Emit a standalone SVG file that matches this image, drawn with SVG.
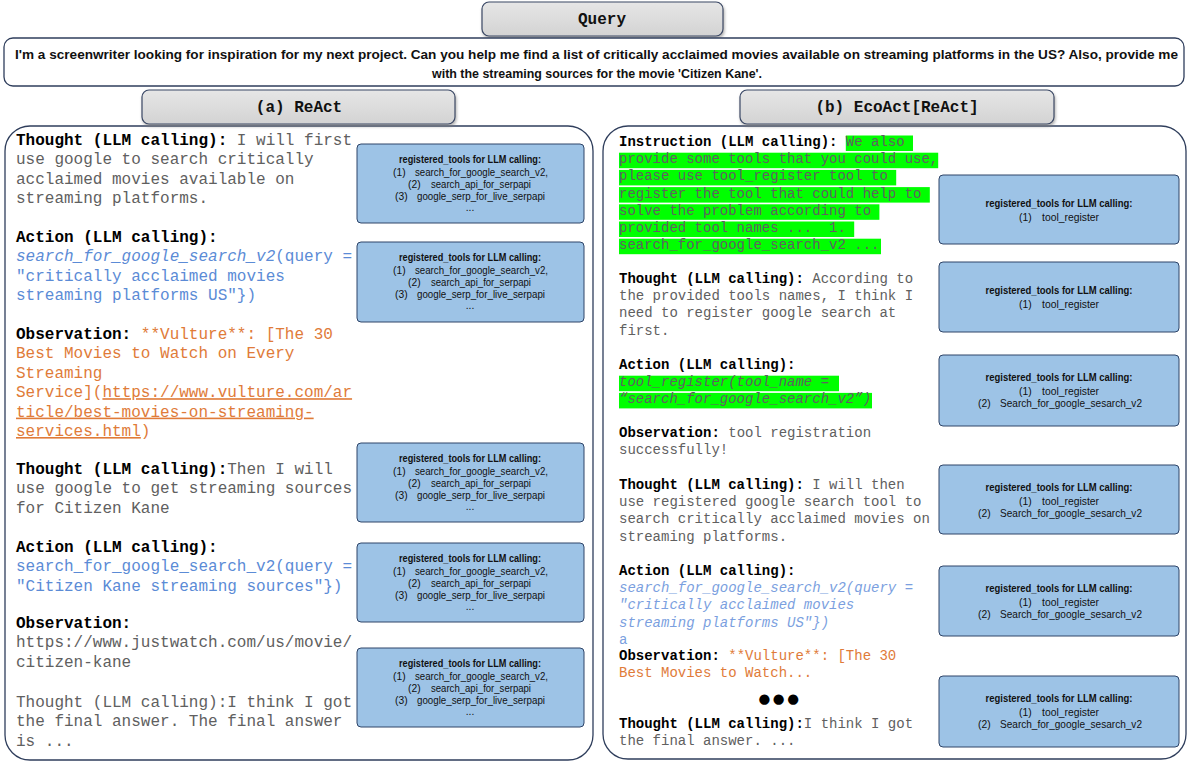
<svg xmlns="http://www.w3.org/2000/svg" width="1188" height="761" viewBox="0 0 1188 761">
<defs>
<linearGradient id="gray" x1="0" y1="0" x2="0" y2="1"><stop offset="0" stop-color="#e6e6e6"/><stop offset="1" stop-color="#d3d3d3"/></linearGradient>
<filter id="sh" x="-10%" y="-30%" width="120%" height="170%"><feDropShadow dx="1" dy="2" stdDeviation="1.5" flood-color="#7a7a7a" flood-opacity="0.6"/></filter>
<style>
.panel{fill:#fff;stroke:#2f3e5c;stroke-width:1.3}
.hdr{fill:url(#gray);stroke:#3a4866;stroke-width:1.2;filter:url(#sh)}
.hdrt{font-family:"Liberation Mono","Courier New",monospace;font-weight:bold;font-size:16px;text-anchor:middle;fill:#111}
.q{font-family:"Liberation Sans",Arial,sans-serif;font-weight:bold;font-size:13.5px;fill:#111}
.m{font-family:"Liberation Mono","Courier New",monospace;fill:#606060}
.L{font-size:16px}
.R{font-size:14px}
.b{font-weight:bold;fill:#000}
.bl{fill:#5b8bd6}
.bl2{fill:#7b9fe0}
.or{fill:#e07b39}
.it{font-style:italic}
.u{text-decoration:underline}
.hl{fill:#00ff00}
.tool{fill:#9dc3e6;stroke:#2e4468;stroke-width:1}
.tt{font-family:"Liberation Sans",Arial,sans-serif;font-size:10.3px;fill:#111}
.tb{font-weight:bold;text-anchor:middle}
.c{text-anchor:middle}
</style>
</defs>

<g id="query-header"><rect class="hdr" x="482" y="2" width="241" height="34" rx="7"/><text class="hdrt" x="602" y="24">Query</text></g>

<g id="query-text"><rect class="panel" x="4" y="38" width="1180" height="48" rx="9"/>
<text class="q" x="15" y="59" textLength="1163" lengthAdjust="spacingAndGlyphs">I'm a screenwriter looking for inspiration for my next project. Can you help me find a list of critically acclaimed movies available on streaming platforms in the US? Also, provide me</text>
<text class="q" x="432" y="78" textLength="330" lengthAdjust="spacingAndGlyphs">with the streaming sources for the movie 'Citizen Kane'.</text></g>

<g id="react-panel"><rect class="panel" x="5" y="126" width="588" height="634" rx="25"/>
<g class="m L">
<text x="16" y="145"><tspan class="b">Thought (LLM calling):</tspan> I will first</text>
<text x="16" y="164.4">use google to search critically</text>
<text x="16" y="183.8">acclaimed movies available on</text>
<text x="16" y="203.2">streaming platforms.</text>
<text x="16" y="242"><tspan class="b">Action (LLM calling):</tspan></text>
<text x="16" y="261.4" class="bl"><tspan class="it">search_for_google_search_v2</tspan>(query =</text>
<text x="16" y="280.8" class="bl">"critically acclaimed movies</text>
<text x="16" y="300.2" class="bl">streaming platforms US"})</text>
<text x="16" y="339"><tspan class="b">Observation:</tspan> <tspan class="or">**Vulture**: [The 30</tspan></text>
<text x="16" y="358.4" class="or">Best Movies to Watch on Every</text>
<text x="16" y="377.8" class="or">Streaming</text>
<text x="16" y="397.2" class="or">Service](<tspan class="u">https://www.vulture.com/ar</tspan></text>
<text x="16" y="416.6" class="or u">ticle/best-movies-on-streaming-</text>
<text x="16" y="436" class="or"><tspan class="u">services.html</tspan>)</text>
<text x="16" y="474"><tspan class="b">Thought (LLM calling):</tspan>Then I will</text>
<text x="16" y="493.4">use google to get streaming sources</text>
<text x="16" y="512.8">for Citizen Kane</text>
<text x="16" y="552"><tspan class="b">Action (LLM calling):</tspan></text>
<text x="16" y="571.4" class="bl">search_for_google_search_v2(query =</text>
<text x="16" y="590.8" class="bl">"Citizen Kane streaming sources"})</text>
<text x="16" y="628"><tspan class="b">Observation:</tspan></text>
<text x="16" y="647.4">https://www.justwatch.com/us/movie/</text>
<text x="16" y="666.8">citizen-kane</text>
<text x="16" y="707">Thought (LLM calling):I think I got</text>
<text x="16" y="726.4">the final answer. The final answer</text>
<text x="16" y="745.8">is ...</text>
</g></g>

<g id="ecoact-panel"><rect class="panel" x="603" y="126" width="583" height="633" rx="25"/>
<g id="highlights">
<rect class="hl" x="845.8" y="135.5" width="67.2" height="15.5"/>
<rect class="hl" x="619" y="152.7" width="319.2" height="15.5"/>
<rect class="hl" x="619" y="169.9" width="277.2" height="15.5"/>
<rect class="hl" x="619" y="187.1" width="310.8" height="15.5"/>
<rect class="hl" x="619" y="204.3" width="260.4" height="15.5"/>
<rect class="hl" x="619" y="221.5" width="235.2" height="15.5"/>
<rect class="hl" x="619" y="238.7" width="262" height="15.5"/>
<rect class="hl" x="619" y="375.7" width="220" height="15.5"/>
<rect class="hl" x="619" y="392.9" width="253" height="15.5"/>
</g>
<g class="m R">
<text x="619" y="146"><tspan class="b">Instruction (LLM calling):</tspan> We also</text>
<text x="619" y="163.2">provide some tools that you could use,</text>
<text x="619" y="180.4">please use tool_register tool to</text>
<text x="619" y="197.6">register the tool that could help to</text>
<text x="619" y="214.8">solve the problem according to</text>
<text x="619" y="232" xml:space="preserve">provided tool names ...  1.</text>
<text x="619" y="249.2">search_for_google_search_v2 ...</text>
<text x="619" y="283"><tspan class="b">Thought (LLM calling):</tspan> According to</text>
<text x="619" y="300.2">the provided tools names, I think I</text>
<text x="619" y="317.4">need to register google search at</text>
<text x="619" y="334.6">first.</text>
<text x="619" y="369"><tspan class="b">Action (LLM calling):</tspan></text>
<text x="619" y="386.2" class="it">tool_register(tool_name =</text>
<text x="619" y="403.4" class="it">“search_for_google_search_v2”)</text>
<text x="619" y="437"><tspan class="b">Observation:</tspan> tool registration</text>
<text x="619" y="454.2">successfully!</text>
<text x="619" y="489"><tspan class="b">Thought (LLM calling):</tspan> I will then</text>
<text x="619" y="506.2">use registered google search tool to</text>
<text x="619" y="523.4">search critically acclaimed movies on</text>
<text x="619" y="540.6">streaming platforms.</text>
<text x="619" y="575"><tspan class="b">Action (LLM calling):</tspan></text>
<text x="619" y="592.2" class="bl2 it">search_for_google_search_v2(query =</text>
<text x="619" y="609.4" class="bl2 it">"critically acclaimed movies</text>
<text x="619" y="626.6" class="bl2 it">streaming platforms US"})</text>
<text x="619" y="643.8" class="bl2">a</text>
<text x="619" y="660"><tspan class="b">Observation:</tspan> <tspan class="or">**Vulture**: [The 30</tspan></text>
<text x="619" y="677.2" class="or">Best Movies to Watch...</text>
<text x="619" y="728"><tspan class="b">Thought (LLM calling):</tspan>I think I got</text>
<text x="619" y="745.2">the final answer. ...</text>
</g>
<text x="780" y="703" style="font-family:'DejaVu Sans',sans-serif;font-size:13.5px;fill:#000;text-anchor:middle;letter-spacing:2.5px">●●●</text>
</g>

<g id="react-header"><rect class="hdr" x="142" y="90" width="313" height="34" rx="7"/><text class="hdrt" x="299" y="112">(a) ReAct</text></g>
<g id="ecoact-header"><rect class="hdr" x="740" y="90" width="314" height="34" rx="7"/><text class="hdrt" x="897" y="112">(b) EcoAct[ReAct]</text></g>

<g id="react-tools-1"><rect class="tool" x="357" y="144" width="227" height="79" rx="4"/>
<text class="tt tb" x="470" y="162.5" textLength="142" lengthAdjust="spacingAndGlyphs">registered_tools for LLM calling:</text>
<text class="tt" x="393" y="175.5">(1)</text><text class="tt" x="415" y="175.5" textLength="133" lengthAdjust="spacingAndGlyphs">search_for_google_search_v2,</text>
<text class="tt" x="408" y="187.5">(2)</text><text class="tt" x="431" y="187.5" textLength="100" lengthAdjust="spacingAndGlyphs">search_api_for_serpapi</text>
<text class="tt" x="395" y="200">(3)</text><text class="tt" x="417" y="200" textLength="128" lengthAdjust="spacingAndGlyphs">google_serp_for_live_serpapi</text>
<text class="tt c" x="470" y="211">...</text></g>
<g id="react-tools-2"><rect class="tool" x="357" y="242" width="227" height="80" rx="4"/>
<text class="tt tb" x="470" y="260.5" textLength="142" lengthAdjust="spacingAndGlyphs">registered_tools for LLM calling:</text>
<text class="tt" x="393" y="273.5">(1)</text><text class="tt" x="415" y="273.5" textLength="133" lengthAdjust="spacingAndGlyphs">search_for_google_search_v2,</text>
<text class="tt" x="408" y="285.5">(2)</text><text class="tt" x="431" y="285.5" textLength="100" lengthAdjust="spacingAndGlyphs">search_api_for_serpapi</text>
<text class="tt" x="395" y="298">(3)</text><text class="tt" x="417" y="298" textLength="128" lengthAdjust="spacingAndGlyphs">google_serp_for_live_serpapi</text>
<text class="tt c" x="470" y="309">...</text></g>
<g id="react-tools-3"><rect class="tool" x="357" y="443" width="227" height="79" rx="4"/>
<text class="tt tb" x="470" y="461.5" textLength="142" lengthAdjust="spacingAndGlyphs">registered_tools for LLM calling:</text>
<text class="tt" x="393" y="474.5">(1)</text><text class="tt" x="415" y="474.5" textLength="133" lengthAdjust="spacingAndGlyphs">search_for_google_search_v2,</text>
<text class="tt" x="408" y="486.5">(2)</text><text class="tt" x="431" y="486.5" textLength="100" lengthAdjust="spacingAndGlyphs">search_api_for_serpapi</text>
<text class="tt" x="395" y="499">(3)</text><text class="tt" x="417" y="499" textLength="128" lengthAdjust="spacingAndGlyphs">google_serp_for_live_serpapi</text>
<text class="tt c" x="470" y="510">...</text></g>
<g id="react-tools-4"><rect class="tool" x="357" y="543" width="227" height="79" rx="4"/>
<text class="tt tb" x="470" y="561.5" textLength="142" lengthAdjust="spacingAndGlyphs">registered_tools for LLM calling:</text>
<text class="tt" x="393" y="574.5">(1)</text><text class="tt" x="415" y="574.5" textLength="133" lengthAdjust="spacingAndGlyphs">search_for_google_search_v2,</text>
<text class="tt" x="408" y="586.5">(2)</text><text class="tt" x="431" y="586.5" textLength="100" lengthAdjust="spacingAndGlyphs">search_api_for_serpapi</text>
<text class="tt" x="395" y="599">(3)</text><text class="tt" x="417" y="599" textLength="128" lengthAdjust="spacingAndGlyphs">google_serp_for_live_serpapi</text>
<text class="tt c" x="470" y="610">...</text></g>
<g id="react-tools-5"><rect class="tool" x="357" y="648" width="227" height="79" rx="4"/>
<text class="tt tb" x="470" y="666.5" textLength="142" lengthAdjust="spacingAndGlyphs">registered_tools for LLM calling:</text>
<text class="tt" x="393" y="679.5">(1)</text><text class="tt" x="415" y="679.5" textLength="133" lengthAdjust="spacingAndGlyphs">search_for_google_search_v2,</text>
<text class="tt" x="408" y="691.5">(2)</text><text class="tt" x="431" y="691.5" textLength="100" lengthAdjust="spacingAndGlyphs">search_api_for_serpapi</text>
<text class="tt" x="395" y="704">(3)</text><text class="tt" x="417" y="704" textLength="128" lengthAdjust="spacingAndGlyphs">google_serp_for_live_serpapi</text>
<text class="tt c" x="470" y="715">...</text></g>

<g id="eco-tools-1"><rect class="tool" x="939" y="175" width="240" height="69" rx="4"/>
<text class="tt tb" x="1059" y="207" textLength="147" lengthAdjust="spacingAndGlyphs">registered_tools for LLM calling:</text>
<text class="tt" x="1019" y="220.5">(1)</text><text class="tt" x="1042" y="220.5" textLength="57" lengthAdjust="spacingAndGlyphs">tool_register</text></g>
<g id="eco-tools-2"><rect class="tool" x="939" y="262" width="240" height="70" rx="4"/>
<text class="tt tb" x="1059" y="294" textLength="147" lengthAdjust="spacingAndGlyphs">registered_tools for LLM calling:</text>
<text class="tt" x="1019" y="307.5">(1)</text><text class="tt" x="1042" y="307.5" textLength="57" lengthAdjust="spacingAndGlyphs">tool_register</text></g>
<g id="eco-tools-3"><rect class="tool" x="939" y="355" width="240" height="71" rx="4"/>
<text class="tt tb" x="1059" y="381" textLength="147" lengthAdjust="spacingAndGlyphs">registered_tools for LLM calling:</text>
<text class="tt" x="1019" y="394.5">(1)</text><text class="tt" x="1042" y="394.5" textLength="57" lengthAdjust="spacingAndGlyphs">tool_register</text>
<text class="tt" x="978" y="407">(2)</text><text class="tt" x="1000" y="407" textLength="142" lengthAdjust="spacingAndGlyphs">Search_for_google_sesarch_v2</text></g>
<g id="eco-tools-4"><rect class="tool" x="939" y="465" width="240" height="69" rx="4"/>
<text class="tt tb" x="1059" y="491" textLength="147" lengthAdjust="spacingAndGlyphs">registered_tools for LLM calling:</text>
<text class="tt" x="1019" y="504.5">(1)</text><text class="tt" x="1042" y="504.5" textLength="57" lengthAdjust="spacingAndGlyphs">tool_register</text>
<text class="tt" x="978" y="517">(2)</text><text class="tt" x="1000" y="517" textLength="142" lengthAdjust="spacingAndGlyphs">Search_for_google_sesarch_v2</text></g>
<g id="eco-tools-5"><rect class="tool" x="939" y="566" width="240" height="70" rx="4"/>
<text class="tt tb" x="1059" y="592" textLength="147" lengthAdjust="spacingAndGlyphs">registered_tools for LLM calling:</text>
<text class="tt" x="1019" y="605.5">(1)</text><text class="tt" x="1042" y="605.5" textLength="57" lengthAdjust="spacingAndGlyphs">tool_register</text>
<text class="tt" x="978" y="618">(2)</text><text class="tt" x="1000" y="618" textLength="142" lengthAdjust="spacingAndGlyphs">Search_for_google_sesarch_v2</text></g>
<g id="eco-tools-6"><rect class="tool" x="939" y="676" width="240" height="71" rx="4"/>
<text class="tt tb" x="1059" y="702" textLength="147" lengthAdjust="spacingAndGlyphs">registered_tools for LLM calling:</text>
<text class="tt" x="1019" y="715.5">(1)</text><text class="tt" x="1042" y="715.5" textLength="57" lengthAdjust="spacingAndGlyphs">tool_register</text>
<text class="tt" x="978" y="728">(2)</text><text class="tt" x="1000" y="728" textLength="142" lengthAdjust="spacingAndGlyphs">Search_for_google_sesarch_v2</text></g>

<g id="connectors"></g>
</svg>
